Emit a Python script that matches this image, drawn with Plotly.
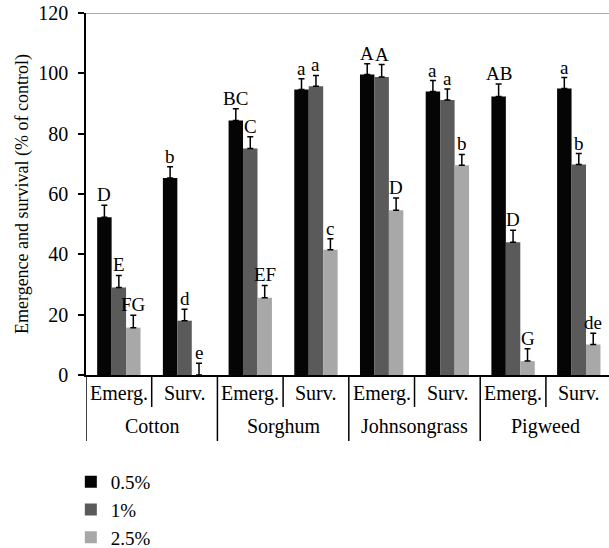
import plotly.graph_objects as go

species = ["Cotton", "Cotton", "Sorghum", "Sorghum", "Johnsongrass", "Johnsongrass", "Pigweed", "Pigweed"]
stage = ["Emerg.", "Surv.", "Emerg.", "Surv.", "Emerg.", "Surv.", "Emerg.", "Surv."]
species_groups = ["Cotton", "Sorghum", "Johnsongrass", "Pigweed"]

series_names = ["0.5%", "1%", "2.5%"]
vals_05 = [52.3, 65.3, 84.4, 94.6, 99.6, 94.0, 92.3, 95.0]
vals_1 = [29.0, 18.0, 75.1, 95.7, 98.8, 91.2, 44.0, 69.8]
vals_25 = [15.7, 0.0, 25.6, 41.5, 54.6, 69.5, 4.6, 10.1]
err_05 = [4.0, 3.7, 3.9, 3.6, 3.6, 3.6, 4.2, 3.6]
err_1 = [4.0, 3.8, 3.9, 3.6, 4.1, 3.6, 4.0, 3.6]
err_25 = [4.1, 3.9, 4.1, 3.7, 4.1, 3.6, 4.1, 3.7]
lab_05 = ["D", "b", "BC", "a", "A", "a", "AB", "a"]
lab_1 = ["E", "d", "C", "a", "A", "a", "D", "b"]
lab_25 = ["FG", "e", "EF", "c", "D", "b", "G", "de"]

colors = ["#050505", "#5a5a5a", "#a8a8a8"]
FONT = "Liberation Serif, Times New Roman, serif"

values = [vals_05, vals_1, vals_25]
errors = [err_05, err_1, err_25]
labels = [lab_05, lab_1, lab_25]

BARGAP = 0.34
fig = go.Figure()
for k in range(3):
    fig.add_trace(go.Bar(
        x=[species, stage], y=values[k], name=series_names[k],
        marker=dict(color=colors[k], line=dict(width=0)),
        error_y=dict(type="data", symmetric=False, array=errors[k],
                     arrayminus=[0] * len(errors[k]),
                     color="#000", thickness=1.5, width=3),
    ))

w = (1 - BARGAP) / 3
for k in range(3):
    off = (k - 1) * w
    for i in range(len(stage)):
        fig.add_annotation(x=i + off, y=values[k][i] + errors[k][i], text=labels[k][i],
                           showarrow=False, yanchor="bottom", yshift=-2,
                           font=dict(family=FONT, size=19, color="#000"))

# x-axis hierarchical labels
for i, s in enumerate(stage):
    fig.add_annotation(x=i, y=0, yref="paper", text=s, showarrow=False, yanchor="middle",
                       yshift=-18, font=dict(family=FONT, size=20, color="#000"))
for j, g in enumerate(species_groups):
    fig.add_annotation(x=2 * j + 0.5, y=0, yref="paper", text=g, showarrow=False, yanchor="middle",
                       yshift=-51, font=dict(family=FONT, size=20, color="#000"))
# inner dividers
for j in range(len(species_groups)):
    xb = 2 * j + 0.5
    fig.add_shape(type="line", xref="x", yref="paper", ysizemode="pixel", yanchor=0,
                  x0=xb, x1=xb, y0=0, y1=-32, line=dict(color="#000", width=1.5))
# outer dividers
for j in range(len(species_groups) + 1):
    xb = 2 * j - 0.5
    fig.add_shape(type="line", xref="x", yref="paper", ysizemode="pixel", yanchor=0,
                  x0=xb, x1=xb, y0=0, y1=-66, line=dict(color="#000", width=1.5))

fig.add_shape(type="line", xref="paper", yref="y", x0=0, x1=1, y0=120, y1=120,
              line=dict(color="#555", width=1))

fig.update_layout(
    width=609, height=548,
    margin=dict(l=86, r=0, t=13, b=173, autoexpand=False),
    paper_bgcolor="white", plot_bgcolor="white",
    barmode="group", bargap=BARGAP, bargroupgap=0,
    font=dict(family=FONT, size=19, color="#000"),
    showlegend=True,
    legend=dict(x=-0.029, xanchor="left", y=-0.243, yanchor="top",
                orientation="v", font=dict(family=FONT, size=19),
                bgcolor="rgba(0,0,0,0)", itemwidth=30, tracegroupgap=0),
    yaxis=dict(range=[0, 120], dtick=20, showline=True, linecolor="#000", linewidth=1.5,
               ticks="outside", ticklen=6, tickcolor="#000", tickwidth=1.5,
               showgrid=False, zeroline=False, automargin=False,
               ticklabelstandoff=6,
               tickfont=dict(family=FONT, size=20),
               title=dict(text="Emergence and survival (% of control)",
                          font=dict(family=FONT, size=18), standoff=5)),
    xaxis=dict(type="multicategory", range=[-0.5, 7.46], showline=True, linecolor="#000",
               linewidth=1.5, ticks="", showticklabels=False, showdividers=False,
               showgrid=False, automargin=False),
)

fig.write_html("out.html")
